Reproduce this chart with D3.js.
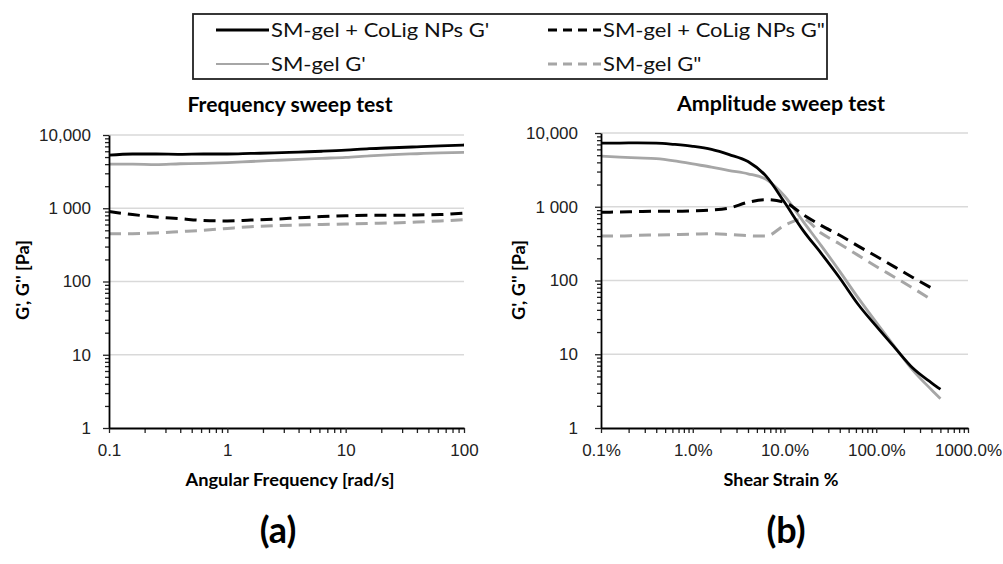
<!DOCTYPE html>
<html lang="en">
<head>
<meta charset="utf-8">
<title>Frequency and amplitude sweep</title>
<script src="https://d3js.org/d3.v7.min.js"></script>
<style>
  body { margin: 0; background: #fff; }
  svg { display: block; }
</style>
</head>
<body>
<div id="viz"></div>
<script>

// ---- data ----
var freqX = [0.1, 0.158, 0.25, 0.4, 0.63, 1, 1.58, 2.5, 4, 6.3, 10, 15.8, 25, 40, 63, 100];
var freqCoLigGp  = [5300, 5500, 5500, 5450, 5500, 5500, 5600, 5700, 5850, 6000, 6200, 6500, 6700, 6900, 7100, 7300];
var freqGelGp    = [4000, 4000, 3950, 4050, 4100, 4200, 4350, 4500, 4650, 4800, 4950, 5200, 5400, 5550, 5700, 5800];
var freqCoLigGpp = [900, 820, 760, 720, 680, 670, 690, 710, 740, 770, 790, 800, 800, 810, 820, 860];
var freqGelGpp   = [450, 450, 460, 480, 500, 530, 560, 580, 590, 600, 610, 620, 630, 650, 670, 700];

var strainX = [0.1, 0.16, 0.25, 0.4, 0.63, 1, 1.6, 2.5, 4, 6.3, 10, 16, 25, 40, 63, 100, 160, 250, 400, 500];
var strainCoLigGp  = [7300, 7300, 7350, 7300, 7000, 6600, 6000, 5100, 4100, 2600, 1150, 475, 235, 108, 48, 24, 12.2, 6.5, 4.1, 3.35];
var strainGelGp    = [4850, 4700, 4600, 4500, 4200, 3800, 3450, 3100, 2800, 2350, 1400, 630, 300, 133, 59, 27, 12.5, 6.1, 3.3, 2.5];
var strainCoLigGpp = [840, 850, 860, 870, 870, 880, 900, 960, 1150, 1250, 1150, 780, 560, 410, 295, 213, 152, 110, 79];
var strainGelGpp   = [400, 400, 410, 415, 420, 425, 430, 420, 405, 400, 560, 680, 440, 313, 221, 155, 110, 79, 55];

var yTicks = [1, 10, 100, 1000, 10000];
var yTickLabels = ["1", "10", "100", "1 000", "10,000"];
var freqTicks = [0.1, 1, 10, 100];
var freqTickLabels = ["0.1", "1", "10", "100"];
var strainTicks = [0.1, 1, 10, 100, 1000];
var strainTickLabels = ["0.1%", "1.0%", "10.0%", "100.0%", "1000.0%"];

var legendLabels = ["SM-gel + CoLig NPs G'", "SM-gel + CoLig NPs G\"", "SM-gel G'", "SM-gel G\""];

// ---- styles ----
var black = "#000000";
var grey = "#a6a6a6";
var styles = [
  { color: black, dash: null, width: 2.8 },
  { color: black, dash: "12,7", width: 3 },
  { color: grey, dash: null, width: 2.8 },
  { color: grey, dash: "12,7", width: 3 }
];

var W = 1003, H = 564;
var svg = d3.select("#viz").append("svg")
  .attr("width", W)
  .attr("height", H);

var bodyFont = "Lato, 'Open Sans', sans-serif";
var tickFont = "'Liberation Sans', Arial, sans-serif";

// the original text is a bit wider than the substitute font: stretch it
function stretch(sel, factor) {
  sel.each(function() {
    var w = this.getComputedTextLength();
    d3.select(this).attr("textLength", w * factor).attr("lengthAdjust", "spacingAndGlyphs");
  });
}
function fitTo(sel, width) {
  sel.attr("textLength", width).attr("lengthAdjust", "spacingAndGlyphs");
}

// minor ticks 2..9 per decade
function minorTicks(lo, hi) {
  var out = [];
  for (var d = lo; d < hi; d *= 10) {
    for (var k = 2; k <= 9; k++) out.push(d * k);
  }
  return out;
}

function drawPanel(cfg) {
  var x = d3.scaleLog().domain(cfg.xDomain).range(cfg.xRange);
  var y = d3.scaleLog().domain([1, 10000]).range(cfg.yRange);
  var g = svg.append("g");

  // gridlines
  g.selectAll(".grid")
    .data(yTicks.slice(1))
    .enter().append("line")
    .attr("x1", cfg.xRange[0]).attr("x2", cfg.xRange[1])
    .attr("y1", function(d) { return y(d); })
    .attr("y2", function(d) { return y(d); })
    .attr("stroke", "#d9d9d9")
    .attr("stroke-width", 1.5);

  // lines
  var line = d3.line()
    .x(function(d) { return x(d[0]); })
    .y(function(d) { return y(d[1]); })
    .curve(d3.curveMonotoneX);

  var order = [2, 3, 1, 0];
  order.forEach(function(i) {
    var s = cfg.series[i];
    var pts = s.map(function(v, j) { return [cfg.xs[j], v]; });
    g.append("path")
      .attr("d", line(pts))
      .attr("fill", "none")
      .attr("stroke", styles[i].color)
      .attr("stroke-width", styles[i].width)
      .attr("stroke-dasharray", styles[i].dash);
  });

  // x minor ticks
  g.append("g")
    .attr("transform", "translate(0," + cfg.yRange[0] + ")")
    .call(d3.axisBottom(x).tickValues(minorTicks(cfg.xDomain[0], cfg.xDomain[1])).tickFormat("").tickSize(5).tickSizeOuter(0))
    .call(function(a) { a.select(".domain").remove(); });

  // x major
  var xa = g.append("g")
    .attr("transform", "translate(0," + cfg.yRange[0] + ")")
    .call(d3.axisBottom(x).tickValues(cfg.xTicks)
      .tickFormat(function(d, i) { return cfg.xTickLabels[i]; })
      .tickSize(5).tickSizeOuter(0).tickPadding(11));

  // y minor ticks
  g.append("g")
    .attr("transform", "translate(" + cfg.xRange[0] + ",0)")
    .call(d3.axisLeft(y).tickValues(minorTicks(1, 10000)).tickFormat("").tickSize(4).tickSizeOuter(0))
    .call(function(a) { a.select(".domain").remove(); });

  // y major
  var ya = g.append("g")
    .attr("transform", "translate(" + cfg.xRange[0] + ",0)")
    .call(d3.axisLeft(y).tickValues(yTicks)
      .tickFormat(function(d, i) { return yTickLabels[i]; })
      .tickSize(6).tickSizeOuter(0).tickPadding(cfg.yPad));

  [xa, ya].forEach(function(a) {
    a.selectAll("text").attr("font-family", tickFont).attr("font-size", 17).attr("fill", "#222");
    a.select(".domain").attr("stroke-width", 1.8);
  });
  g.selectAll(".tick line").attr("stroke", "#222").attr("stroke-width", 1.3);

  // titles
  g.append("text")
    .attr("x", cfg.titleX).attr("y", cfg.titleY)
    .attr("text-anchor", "middle")
    .attr("font-family", bodyFont).attr("font-weight", "bold").attr("font-size", 20)
    .text(cfg.title)
    .call(fitTo, cfg.titleW);

  g.append("text")
    .attr("x", cfg.titleX).attr("y", 486)
    .attr("text-anchor", "middle")
    .attr("font-family", bodyFont).attr("font-weight", "bold").attr("font-size", 16.5)
    .text(cfg.xLabel)
    .call(fitTo, cfg.xLabelW);

  g.append("text")
    .attr("transform", "translate(" + cfg.yLabelX + ",280) rotate(-90)")
    .attr("text-anchor", "middle")
    .attr("font-family", bodyFont).attr("font-weight", "bold").attr("font-size", 16.5)
    .text("G', G'' [Pa]")
    .call(fitTo, 80);

  g.append("text")
    .attr("x", cfg.panelX).attr("y", 543)
    .attr("text-anchor", "middle")
    .attr("font-family", bodyFont).attr("font-weight", "bold").attr("font-size", 36)
    .text(cfg.panel);
}

drawPanel({
  xDomain: [0.1, 100], xRange: [109, 464], yRange: [428, 135],
  xs: freqX,
  series: [freqCoLigGp, freqCoLigGpp, freqGelGp, freqGelGpp],
  xTicks: freqTicks, xTickLabels: freqTickLabels,
  yPad: 12,
  title: "Frequency sweep test", titleX: 290, titleY: 112, titleW: 205,
  xLabel: "Angular Frequency [rad/s]", xLabelW: 209,
  yLabelX: 29,
  panel: "(a)", panelX: 278
});

drawPanel({
  xDomain: [0.1, 1000], xRange: [601, 968], yRange: [428, 133],
  xs: strainX,
  series: [strainCoLigGp, strainCoLigGpp, strainGelGp, strainGelGpp],
  xTicks: strainTicks, xTickLabels: strainTickLabels,
  yPad: 17,
  title: "Amplitude sweep test", titleX: 781, titleY: 111, titleW: 208,
  xLabel: "Shear Strain %", xLabelW: 115,
  yLabelX: 525,
  panel: "(b)", panelX: 786
});

// ---- legend ----
var lg = svg.append("g");
lg.append("rect")
  .attr("x", 193).attr("y", 14)
  .attr("width", 634).attr("height", 65)
  .attr("fill", "none").attr("stroke", "#222").attr("stroke-width", 1.8);

var legendPos = [
  { x: 216, y: 30 }, { x: 548, y: 30 },
  { x: 216, y: 64 }, { x: 548, y: 64 }
];
var legendDash = [null, "9,6", null, "9,6"];
legendLabels.forEach(function(lbl, i) {
  var p = legendPos[i];
  lg.append("line")
    .attr("x1", p.x).attr("x2", p.x + 53)
    .attr("y1", p.y).attr("y2", p.y)
    .attr("stroke", styles[i].color)
    .attr("stroke-width", i === 2 ? 2 : 3)
    .attr("stroke-dasharray", legendDash[i]);
  lg.append("text")
    .attr("x", p.x + 55).attr("y", p.y + 7)
    .attr("font-family", bodyFont).attr("font-size", 20)
    .attr("fill", "#111")
    .text(lbl)
    .call(stretch, 1.1);
});

</script>
</body>
</html>
